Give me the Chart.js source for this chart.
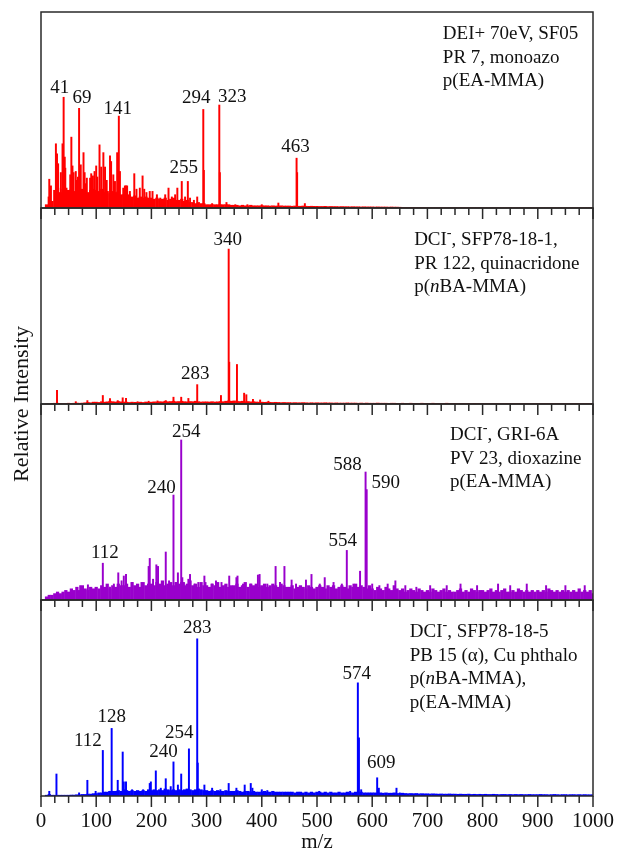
<!DOCTYPE html>
<html>
<head>
<meta charset="utf-8">
<script src="https://cdn.jsdelivr.net/npm/chart.js@4.4.1/dist/chart.umd.min.js"></script>
<style>
  html, body { margin: 0; padding: 0; background: #fff; }
</style>
</head>
<body>
<canvas id="spectra" width="623" height="849"></canvas>
<script>
// m/z axis
const mzTicks = [0, 100, 200, 300, 400, 500, 600, 700, 800, 900, 1000];
// dense low-level signal is read every 5 m/z from 10 to 1000
const noiseStart = 10;
const noiseStep = 5;

// panel 1: DEI+ 70eV, SF05 (PR 7)
const p1Noise = [
  3, 10, 6, 16, 18, 14, 17, 18,
  16, 17, 15, 16, 15, 17, 15, 14, 16, 17,
  16, 15, 17, 14, 15, 13, 15, 14, 15, 12,
  12, 11, 12, 10, 11, 9, 10, 9, 10, 9,
  9, 8, 9, 8, 8, 9, 7, 8, 9, 7,
  7, 8, 6, 7, 5, 5, 4, 5, 4, 4,
  3, 3, 3, 3, 3, 3, 3, 3, 3, 2.5,
  2.5, 2.5, 2, 2.5, 2, 2, 2.5, 2, 2, 2,
  2, 2, 2, 1.8, 2, 1.8, 1.8, 2, 1.8, 1.8,
  1.8, 1.6, 1.8, 1.6, 1.6, 1.8, 1.6, 1.5, 1.6, 1.5,
  1.5, 1.4, 1.4, 1.5, 1.3, 1.4, 1.3, 1.3, 1.2, 1.3,
  1.2, 1.2, 1.1, 1.2, 1.1, 1.1, 1, 1.1, 1, 1,
  1, 0.9, 1, 0.9, 0.9, 0.9, 0.8, 0.9, 0.8, 0.8,
  0.7, 0.6, 0.6, 0.5, 0.5, 0.5, 0.4, 0.4, 0.4, 0.4,
  0.3, 0.3, 0.3, 0.3, 0.3, 0.3, 0.3, 0.3, 0.3, 0.3,
  0.3, 0.3, 0.3, 0.3, 0.3, 0.3, 0.3, 0.3, 0.3, 0.3,
  0.2, 0.2, 0.2, 0.2, 0.2, 0.2, 0.2, 0.2, 0.2, 0.2,
  0.2, 0.2, 0.2, 0.2, 0.2, 0.2, 0.2, 0.2, 0.2, 0.2,
  0.2, 0.2, 0.2, 0.2, 0.2, 0.2, 0.2, 0.2, 0.2, 0.2,
  0.2, 0.2, 0.2, 0.2, 0.2, 0.2, 0.2, 0.2, 0.2, 0.2,
  0.2
];
const p1Peaks = [
  [15, 26], [18, 20], [27, 58], [29, 49], [31, 40], [36, 32], [39, 58], [41, 100],
  [43, 46], [44, 36], [53, 30], [55, 64], [57, 38], [59, 32], [63, 33], [65, 25],
  [67, 28], [69, 90], [72, 39], [77, 50], [79, 32], [81, 22], [83, 27], [89, 27],
  [91, 31], [94, 29], [97, 33], [100, 38], [102, 28], [106, 57], [109, 37], [113, 50],
  [116, 37], [119, 25], [125, 47], [127, 42], [131, 30], [134, 24], [138, 50], [141, 83],
  [143, 33], [149, 18], [152, 20], [154, 20], [156, 20], [161, 15], [169, 31], [173, 17],
  [179, 18], [184, 29], [187, 17], [191, 14], [197, 15], [202, 15], [210, 12], [216, 9],
  [225, 12], [231, 18], [237, 10], [243, 12], [247, 18], [255, 24], [261, 10], [266, 24],
  [270, 9], [277, 7], [283, 10], [294, 89], [295, 34], [310, 4], [323, 93], [324, 32],
  [336, 5], [352, 3], [374, 3], [400, 3], [430, 4.5], [463, 45], [464, 32], [478, 4]
];
// label text, peak m/z, pixel nudge x, pixel nudge y
const p1Labels = [
  ["41", 41, -4, -9], ["69", 69, 3, -10], ["141", 141, -1, -7], ["255", 255, 2, -13],
  ["294", 294, -7, -11], ["323", 323, 13, -8], ["463", 463, -1, -11]
];
const p1Note = [["DEI+ 70eV, SF05"], ["PR 7, monoazo"], ["p(EA-MMA)"]];

// panel 2: DCI-, SFP78-18-1 (PR 122)
const p2Noise = [
  0, 0, 0.4, 0.5, 0.5, 0.4, 0.3, 0.3,
  0.5, 0.4, 0.5, 0.6, 0.5, 0.6, 0.8, 1, 0.8, 1.2,
  1.2, 1, 1.5, 1.2, 1.4, 1.8, 1.5, 1.3, 1.6, 1.4,
  1.3, 1.2, 1, 1.2, 1.1, 1, 1.2, 1, 1.3, 1.1,
  1.2, 1.4, 1.3, 1.5, 1.4, 1.8, 1.5, 1.6, 1.8, 1.5,
  1.6, 1.8, 1.5, 1.4, 1.6, 1.5, 1.8, 1.5, 1.3, 1.4,
  1.4, 1.3, 1.5, 1.3, 1.4, 1.6, 1.5, 1.8, 2, 1.8,
  2, 1.8, 1.6, 1.8, 1.5, 1.6, 1.4, 1.5, 1.3, 1.2,
  1.2, 1.1, 1.2, 1.1, 1, 1.1, 1, 0.9, 1, 0.9,
  0.9, 0.8, 0.9, 0.8, 0.8, 0.9, 0.8, 0.7, 0.8, 0.7,
  0.8, 0.7, 0.7, 0.8, 0.7, 0.7, 0.6, 0.7, 0.6, 0.6,
  0.6, 0.7, 0.6, 0.6, 0.6, 0.5, 0.6, 0.5, 0.6, 0.5,
  0.5, 0.5, 0.6, 0.5, 0.5, 0.5, 0.4, 0.5, 0.5, 0.4,
  0.4, 0.5, 0.4, 0.4, 0.5, 0.4, 0.4, 0.4, 0.5, 0.4,
  0.4, 0.4, 0.5, 0.4, 0.4, 0.4, 0.4, 0.5, 0.4, 0.4,
  0.4, 0.3, 0.4, 0.4, 0.3, 0.4, 0.3, 0.4, 0.3, 0.3,
  0.3, 0.3, 0.3, 0.3, 0.3, 0.3, 0.3, 0.3, 0.3, 0.3,
  0.3, 0.3, 0.3, 0.3, 0.3, 0.3, 0.3, 0.3, 0.3, 0.3,
  0.3, 0.3, 0.3, 0.3, 0.3, 0.3, 0.3, 0.3, 0.3, 0.3,
  0.3, 0.3, 0.3, 0.3, 0.3, 0.3, 0.3, 0.3, 0.3, 0.3,
  0.3
];
const p2Peaks = [
  [29, 8.8], [63, 1.5], [84, 2.2], [112, 5.5], [125, 3.5], [139, 2.2], [148, 4], [154, 3.6],
  [175, 1.5], [195, 1.8], [211, 2], [226, 2.2], [240, 4.4], [254, 4.4], [267, 3.6], [283, 12.5],
  [326, 5.5], [340, 100], [341, 27], [355, 25.5], [368, 7], [372, 6], [384, 3], [397, 2.6],
  [412, 1.8]
];
const p2Labels = [["340", 340, -1, -9], ["283", 283, -2, -11]];
const p2Note = [
  ["DCI", { t: "-", sup: true }, ", SFP78-18-1,"],
  ["PR 122, quinacridone"],
  ["p(", { t: "n", it: true }, "BA-MMA)"]
];

// panel 3: DCI-, GRI-6A (PV 23)
const p3Noise = [
  2, 3, 3, 4, 5, 4, 5, 6,
  5, 7, 6, 8, 6, 9, 7, 6, 8, 7,
  8, 7, 9, 8, 10, 7, 9, 8, 10, 9,
  9, 10, 8, 11, 9, 10, 8, 11, 9, 10,
  10, 9, 11, 10, 12, 9, 10, 11, 9, 11,
  10, 11, 9, 10, 12, 9, 10, 8, 11, 9,
  9, 8, 10, 9, 11, 8, 9, 10, 8, 9,
  9, 10, 8, 9, 11, 8, 10, 9, 10, 8,
  9, 10, 8, 9, 10, 9, 8, 10, 9, 8,
  8, 9, 7, 8, 9, 8, 7, 9, 8, 7,
  8, 9, 8, 7, 9, 8, 9, 7, 8, 9,
  8, 7, 9, 8, 10, 8, 9, 8, 7, 9,
  7, 6, 8, 7, 6, 8, 7, 6, 9, 7,
  6, 7, 5, 6, 7, 6, 5, 7, 6, 5,
  6, 5, 7, 6, 5, 6, 7, 5, 6, 5,
  5, 6, 7, 5, 6, 5, 7, 6, 5, 6,
  6, 5, 6, 7, 5, 6, 5, 6, 7, 5,
  5, 6, 5, 7, 6, 5, 6, 5, 6, 5,
  6, 5, 6, 5, 7, 6, 5, 6, 5, 6,
  5, 6, 5, 6, 5, 7, 5, 6, 5, 6,
  4
];
const p3Peaks = [
  [71, 9], [85, 9.5], [97, 6], [112, 23], [125, 8], [132, 10], [140, 17], [146, 12],
  [150, 15], [154, 16], [165, 11], [182, 11], [195, 21], [197, 26], [203, 13], [209, 22],
  [212, 21], [226, 30], [232, 12], [240, 65.6], [244, 11], [248, 17], [254, 100], [256, 14],
  [259, 11], [267, 13], [270, 16], [278, 10], [285, 11], [296, 15], [298, 11], [310, 10],
  [317, 12], [327, 11], [334, 9], [341, 15], [354, 14], [356, 15], [366, 10], [380, 10],
  [393, 15.6], [396, 16], [410, 10], [425, 21], [433, 11], [441, 21], [454, 12.5], [462, 10],
  [480, 12.5], [490, 16], [505, 10], [514, 14], [530, 11], [545, 10], [554, 31], [566, 10],
  [578, 18], [588, 80], [590, 69], [600, 10], [613, 9], [628, 10], [642, 12], [660, 9],
  [680, 8], [705, 9], [735, 9], [760, 10], [790, 9], [828, 10], [850, 9], [880, 10],
  [915, 9], [950, 9], [985, 9]
];
const p3Labels = [
  ["254", 254, 5, -8], ["240", 240, -12, -7], ["112", 112, 2, -10],
  ["588", 588, -18, -7], ["590", 590, 19, -7], ["554", 554, -4, -9]
];
const p3Note = [
  ["DCI", { t: "-", sup: true }, ", GRI-6A"],
  ["PV 23, dioxazine"],
  ["p(EA-MMA)"]
];

// panel 4: DCI-, SFP78-18-5 (PB 15)
const p4Noise = [
  0.5, 1, 0.5, 0.5, 0.5, 0.5, 0.5, 0.5,
  0.5, 0.6, 0.6, 0.8, 0.8, 1, 1, 1.2, 1.2, 1.5,
  1.5, 2, 2, 2.5, 2.5, 3, 3, 3, 3.5, 3,
  4, 3.5, 3, 3.5, 3, 3.5, 3, 3.5, 3, 4,
  3.5, 4, 3.5, 4, 3.5, 4.5, 4, 3.5, 4, 3.5,
  4, 3.5, 4, 4.5, 4, 3.5, 4, 4.5, 4, 3.5,
  3.5, 3, 3.5, 3, 3.5, 3, 3, 3.5, 3, 3,
  3, 3.5, 3, 2.5, 3, 3, 2.5, 3, 2.5, 2.5,
  2.5, 3, 2.5, 2.5, 3, 2.5, 2.5, 2.5, 2.5, 2.5,
  2.5, 2.5, 2, 2.5, 2.5, 2, 2.5, 2, 2.5, 2,
  2.5, 2.5, 2, 2.5, 2, 2.5, 2, 2, 2.5, 2,
  2, 2.5, 2, 2, 2.5, 2, 2.5, 2, 2, 2,
  2, 2, 1.8, 2, 1.8, 2, 1.8, 1.8, 2, 1.6,
  1.6, 1.8, 1.6, 1.5, 1.6, 1.5, 1.6, 1.4, 1.5, 1.4,
  1.4, 1.3, 1.4, 1.3, 1.2, 1.3, 1.2, 1.2, 1.3, 1.2,
  1.2, 1.1, 1.2, 1.1, 1.1, 1.2, 1, 1.1, 1, 1.1,
  1, 1.1, 1, 1, 1.1, 1, 0.9, 1, 1, 0.9,
  1, 0.9, 1, 0.9, 1, 0.9, 0.9, 1, 0.9, 0.9,
  0.9, 1, 0.9, 0.9, 0.8, 0.9, 1, 0.9, 0.8, 0.9,
  0.9, 0.8, 0.9, 0.9, 0.8, 0.9, 0.8, 0.9, 0.8, 0.8,
  0.8
];
const p4Peaks = [
  [15, 3], [28, 14], [69, 2], [84, 10], [99, 3], [112, 29], [124, 3], [128, 43],
  [139, 10], [148, 28], [150, 9], [154, 9], [165, 4], [185, 4], [197, 8], [199, 9],
  [208, 16], [217, 5], [226, 11], [235, 6], [240, 21.7], [248, 7], [254, 14], [268, 30],
  [283, 100], [284, 21], [296, 7], [310, 5], [325, 4], [340, 8], [354, 5], [369, 7],
  [380, 8], [383, 5], [400, 4], [410, 3.5], [504, 3], [560, 3], [574, 72], [576, 37],
  [580, 4], [609, 11.6], [612, 5], [644, 5], [650, 2]
];
const p4Labels = [
  ["283", 283, 0, -11], ["128", 128, 0, -11], ["112", 112, -15, -9], ["240", 240, -10, -10],
  ["254", 254, -2, -41], ["574", 574, -1, -9], ["609", 609, 4, -15]
];
const p4Note = [
  ["DCI", { t: "-", sup: true }, ", SFP78-18-5"],
  ["PB 15 (\u03b1), Cu phthalo"],
  ["p(", { t: "n", it: true }, "BA-MMA),"],
  ["p(EA-MMA)"]
];

const SERIF = "'Liberation Serif', 'Times New Roman', serif";
const INK = "#111";

const panels = [
  { id: "y1", color: "#ff0000", max: 177, noise: p1Noise, peaks: p1Peaks, labels: p1Labels, note: p1Note, noteMz: 728, noteTop: 27 },
  { id: "y2", color: "#ff0000", max: 126.5, noise: p2Noise, peaks: p2Peaks, labels: p2Labels, note: p2Note, noteMz: 676, noteTop: 37 },
  { id: "y3", color: "#9900cc", max: 122.5, noise: p3Noise, peaks: p3Peaks, labels: p3Labels, note: p3Note, noteMz: 741, noteTop: 36 },
  { id: "y4", color: "#0000ff", max: 124.7, noise: p4Noise, peaks: p4Peaks, labels: p4Labels, note: p4Note, noteMz: 668, noteTop: 37 }
];

function drawRich(ctx, x, y, parts, size) {
  let cx = x;
  parts.forEach(part => {
    const seg = typeof part === "string" ? { t: part } : part;
    const fs = seg.sup ? size * 0.75 : size;
    ctx.font = (seg.it ? "italic " : "") + fs + "px " + SERIF;
    ctx.fillText(seg.t, cx, seg.sup ? y - size * 0.4 : y);
    cx += ctx.measureText(seg.t).width;
  });
}

// panel frames, inward tick marks, peak labels and the panel notes
const panelDecor = {
  id: "panelDecor",
  afterDatasetsDraw(chart) {
    const ctx = chart.ctx;
    const xs = chart.scales.x;
    const area = chart.chartArea;
    ctx.save();
    panels.forEach(p => {
      const ys = chart.scales[p.id];
      ctx.strokeStyle = "#2a2a2a";
      ctx.lineWidth = 1.5;
      ctx.strokeRect(area.left, ys.top, area.right - area.left, ys.bottom - ys.top);
      ctx.beginPath();
      for (let v = 0; v <= 1000; v += 25) {
        const x = xs.getPixelForValue(v);
        ctx.moveTo(x, ys.bottom);
        ctx.lineTo(x, ys.bottom + (v % 100 === 0 ? 11 : 7));
      }
      ctx.stroke();

      ctx.fillStyle = INK;
      ctx.textAlign = "center";
      ctx.textBaseline = "middle";
      ctx.font = "19px " + SERIF;
      p.labels.forEach(([text, mz, dx, dy]) => {
        const pk = p.peaks.find(q => q[0] === mz);
        const x = xs.getPixelForValue(mz) + dx;
        const y = ys.getPixelForValue(pk ? pk[1] : 0) + dy;
        ctx.fillText(text, x, y);
      });

      ctx.textAlign = "left";
      ctx.textBaseline = "alphabetic";
      const nx = xs.getPixelForValue(p.noteMz);
      p.note.forEach((line, i) => {
        drawRich(ctx, nx, ys.top + p.noteTop + i * 23.5, line, 19);
      });
    });

    // shared y title
    ctx.translate(22, (area.top + area.bottom) / 2);
    ctx.rotate(-Math.PI / 2);
    ctx.textAlign = "center";
    ctx.textBaseline = "middle";
    ctx.font = "22px " + SERIF;
    ctx.fillStyle = INK;
    ctx.fillText("Relative Intensity", 0, 0);
    ctx.restore();
  }
};

const datasets = [];
panels.forEach(p => {
  datasets.push({
    label: p.id + " background",
    yAxisID: p.id,
    data: p.noise.map((v, i) => ({ x: noiseStart + i * noiseStep, y: v })),
    backgroundColor: p.color,
    borderWidth: 0,
    barThickness: 2.6,
    grouped: false
  });
  datasets.push({
    label: p.id + " peaks",
    yAxisID: p.id,
    data: p.peaks.map(([mz, v]) => ({ x: mz, y: v })),
    backgroundColor: p.color,
    borderWidth: 0,
    barThickness: 1.3,
    grouped: false
  });
});

const scales = {
  x: {
    type: "linear",
    min: 0,
    max: 1000,
    offset: false,
    afterBuildTicks: scale => { scale.ticks = mzTicks.map(v => ({ value: v })); },
    afterFit: scale => { scale.height = 53; },
    grid: { display: false, drawTicks: true, tickLength: 13, offset: false },
    border: { display: false },
    ticks: {
      color: INK, padding: 2, maxRotation: 0, autoSkip: false,
      font: { family: SERIF, size: 21, lineHeight: 1 },
      callback: v => String(v)
    },
    title: { display: true, text: "m/z", color: INK, padding: { top: 0, bottom: 0 }, font: { family: SERIF, size: 21, lineHeight: 0.6 } }
  }
};
// stacked panels: first listed ends up at the bottom
panels.slice().reverse().forEach(p => {
  scales[p.id] = {
    type: "linear",
    position: "left",
    stack: "spectra",
    stackWeight: 1,
    min: 0,
    max: p.max,
    ticks: { display: false },
    grid: { display: false, drawTicks: false },
    border: { display: false }
  };
});

new Chart(document.getElementById("spectra").getContext("2d"), {
  type: "bar",
  data: { datasets },
  options: {
    responsive: false,
    animation: false,
    events: [],
    layout: { padding: { left: 41, right: 30, top: 12, bottom: 0 } },
    plugins: { legend: { display: false }, tooltip: { enabled: false } },
    scales
  },
  plugins: [panelDecor]
});
</script>
</body>
</html>
